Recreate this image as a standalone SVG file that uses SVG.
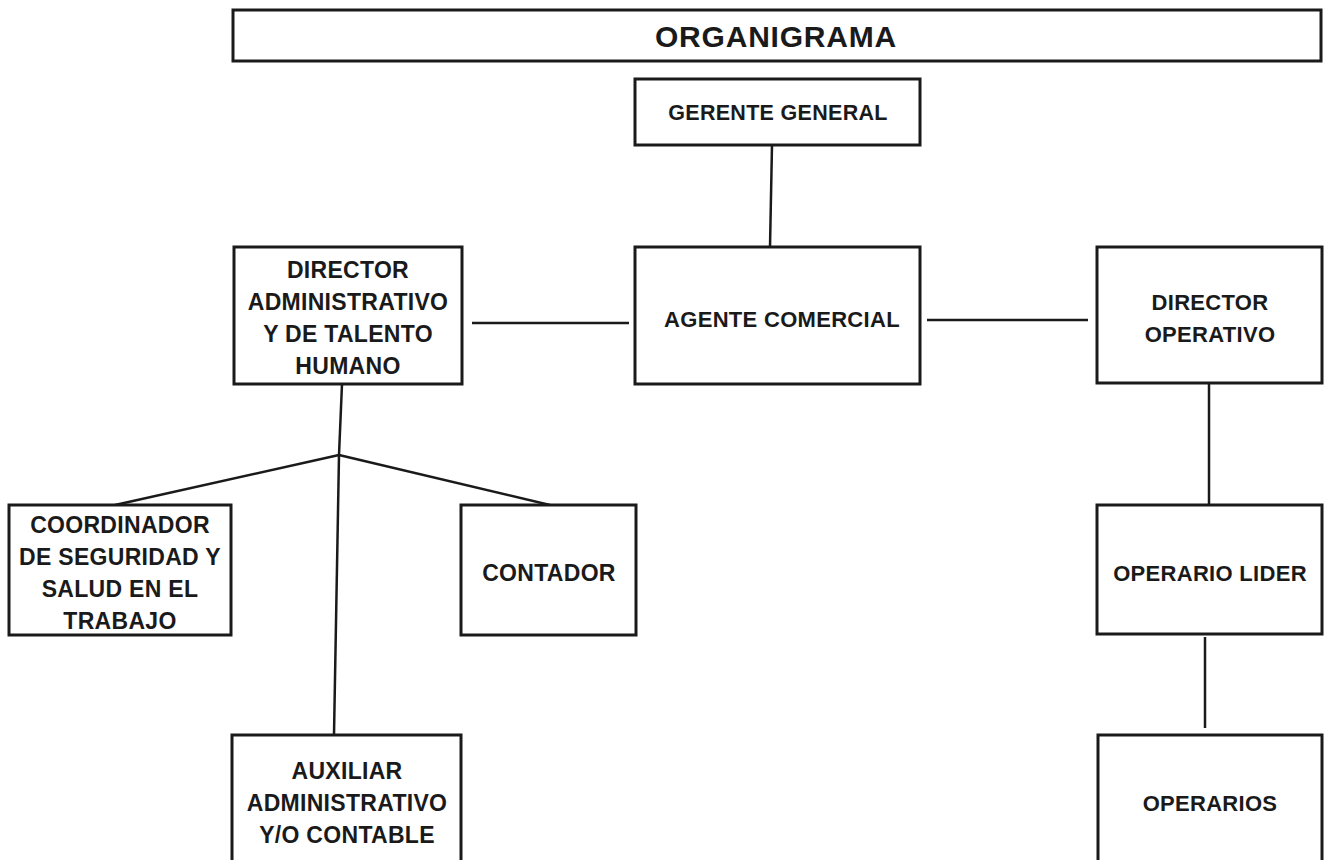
<svg xmlns="http://www.w3.org/2000/svg" width="1325" height="860" viewBox="0 0 1325 860">
<style>
.box{fill:#fff;stroke:#1a1a1a;stroke-width:3}
.con{stroke:#1a1a1a;stroke-width:2.5;fill:none}
text{font-family:"Liberation Sans",Arial,sans-serif;font-weight:bold;font-size:23px;fill:#1a1a1a;text-anchor:middle;letter-spacing:0.3px}
.title{font-size:30px;letter-spacing:0.8px}
.s21{font-size:21.5px}
.s22{font-size:22px}
</style>
<rect width="1325" height="860" fill="#fff"/>
<g id="connectors">
<line class="con" x1="772" y1="145" x2="770" y2="247"/>
<line class="con" x1="472" y1="323" x2="629" y2="323"/>
<line class="con" x1="927" y1="320" x2="1088" y2="320"/>
<line class="con" x1="342" y1="384" x2="339" y2="455"/>
<line class="con" x1="339" y1="455" x2="115" y2="505"/>
<line class="con" x1="339" y1="455" x2="550" y2="505"/>
<line class="con" x1="339" y1="455" x2="334" y2="735"/>
<line class="con" x1="1209" y1="383" x2="1209" y2="505"/>
<line class="con" x1="1205" y1="637" x2="1205" y2="728"/>
</g>
<g id="title">
<rect class="box" x="233" y="10" width="1088" height="51"/>
<text class="title" x="776" y="47">ORGANIGRAMA</text>
</g>
<g id="gerente-general">
<rect class="box" x="635" y="79" width="285" height="66"/>
<text class="s21" x="778" y="120">GERENTE GENERAL</text>
</g>
<g id="agente-comercial">
<rect class="box" x="635" y="247" width="285" height="137"/>
<text class="s22" x="782" y="327">AGENTE COMERCIAL</text>
</g>
<g id="director-administrativo">
<rect class="box" x="234" y="247" width="228" height="137"/>
<text x="348" y="278">DIRECTOR</text>
<text x="348" y="310">ADMINISTRATIVO</text>
<text x="348" y="342">Y DE TALENTO</text>
<text x="348" y="374">HUMANO</text>
</g>
<g id="director-operativo">
<rect class="box" x="1097" y="247" width="225" height="136"/>
<text class="s22" x="1210" y="310">DIRECTOR</text>
<text class="s22" x="1210" y="342">OPERATIVO</text>
</g>
<g id="coordinador">
<rect class="box" x="9" y="505" width="222" height="130"/>
<text x="120" y="533">COORDINADOR</text>
<text x="120" y="565">DE SEGURIDAD Y</text>
<text x="120" y="597">SALUD EN EL</text>
<text x="120" y="629">TRABAJO</text>
</g>
<g id="contador">
<rect class="box" x="461" y="505" width="175" height="130"/>
<text x="549" y="581">CONTADOR</text>
</g>
<g id="operario-lider">
<rect class="box" x="1097" y="505" width="225" height="129"/>
<text class="s22" x="1210" y="581">OPERARIO LIDER</text>
</g>
<g id="auxiliar">
<rect class="box" x="232" y="735" width="229" height="140"/>
<text x="347" y="779">AUXILIAR</text>
<text x="347" y="811">ADMINISTRATIVO</text>
<text x="347" y="843">Y/O CONTABLE</text>
</g>
<g id="operarios">
<rect class="box" x="1098" y="735" width="224" height="140"/>
<text class="s22" x="1210" y="811">OPERARIOS</text>
</g>
</svg>
